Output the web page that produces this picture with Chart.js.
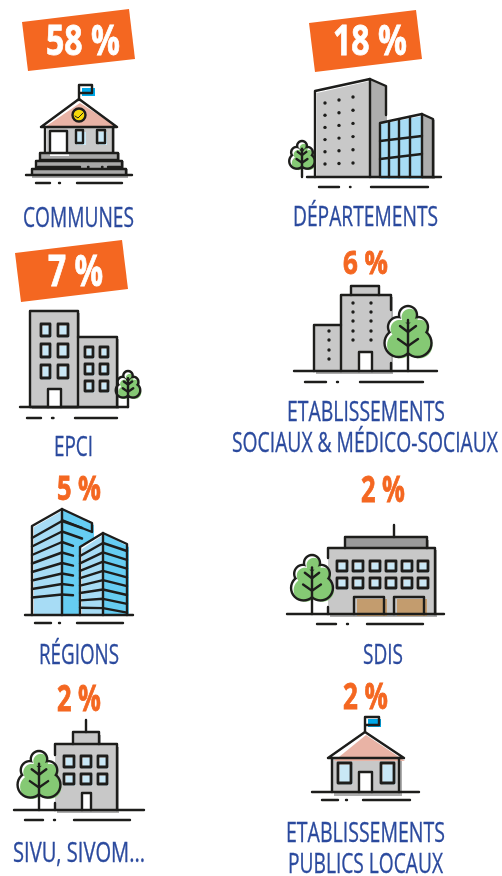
<!DOCTYPE html>
<html lang="fr">
<head>
<meta charset="utf-8">
<title>Répartition par type de collectivité</title>
<script src="https://cdn.jsdelivr.net/npm/chart.js@4"></script>
<style>
  html, body { margin: 0; padding: 0; background: #fff; }
  canvas { display: block; }
</style>
</head>
<body>
<canvas id="shareChart" width="502" height="876"></canvas>
<script>
// Chart values
const categories = [
    ['COMMUNES'],
    ['DÉPARTEMENTS'],
    ['EPCI'],
    ['ETABLISSEMENTS', 'SOCIAUX & MÉDICO-SOCIAUX'],
    ['RÉGIONS'],
    ['SDIS'],
    ['SIVU, SIVOM...'],
    ['ETABLISSEMENTS', 'PUBLICS LOCAUX']
];
const shares = [58, 18, 7, 6, 5, 2, 2, 2];
const bannerFlags = [true, true, true, false, false, false, false, false];

// Layout, in px of the 502x876 page
// value: [left, right, top, baseline] of the "NN %" text, label: the same for each text line
const valueBoxes = [
    [46, 120, 25, 55], [333, 407, 25, 55], [48, 103, 255, 286], [343, 388, 251, 274],
    [57, 101, 476, 500], [361, 405, 477, 502], [57, 101, 686, 711], [343, 388, 684, 709]
];
const labelBoxes = [
    [[23, 134, 227]],
    [[293, 438, 226]],
    [[54, 93, 456]],
    [[287, 445, 421], [232, 498, 452]],
    [[39, 119, 664]],
    [[363, 403, 664]],
    [[13, 145, 862]],
    [[286, 445, 842], [288, 443, 873]]
];
const bannerCorners = [
    [[22, 22], [129, 9], [135, 59], [28, 71]],
    [[309, 23], [416, 10], [422, 59], [315, 72]],
    [[15, 253], [122, 240], [128, 289], [21, 302]]
];

const INK = '#1d1d1b', GREY = '#c8c8c8', SHADE = '#adadad', GLASS = '#c9e8f6';
const SKY = '#a7dcf5', CYAN = '#66cdf2', FLAG = '#00a8e8', ROOF = '#e9b3a5';
const GREEN = '#85c974', ORANGE = '#f46721', BLUE = '#2b4a9e';

function fillPoly(ctx, color, pts) {
    ctx.fillStyle = color;
    ctx.beginPath();
    pts.forEach((p, i) => i ? ctx.lineTo(p[0], p[1]) : ctx.moveTo(p[0], p[1]));
    ctx.closePath();
    ctx.fill();
}

function line(ctx, pts, width) {
    ctx.strokeStyle = INK;
    ctx.lineWidth = width || 2.4;
    ctx.lineCap = 'round';
    ctx.lineJoin = 'round';
    ctx.beginPath();
    pts.forEach((p, i) => i ? ctx.lineTo(p[0], p[1]) : ctx.moveTo(p[0], p[1]));
    ctx.stroke();
}

function box(ctx, color, x0, y0, x1, y1) {
    ctx.fillStyle = color;
    ctx.fillRect(x0, y0, x1 - x0, y1 - y0);
}

function outline(ctx, x0, y0, x1, y1, width) {
    line(ctx, [[x0, y0], [x1, y0], [x1, y1], [x0, y1], [x0, y0]], width);
}

function windowPane(ctx, x0, y0, x1, y1, glass) {
    box(ctx, '#fff', x0, y0, x1, y1);
    box(ctx, glass || GLASS, x0 + 2, y0 + 2, x1 + 1.5, y1 + 1.5);
    outline(ctx, x0, y0, x1, y1, 2.8);
}

function door(ctx, x0, y0, x1, y1) {
    box(ctx, '#fff', x0, y0, x1, y1);
    line(ctx, [[x0, y1], [x0, y0], [x1, y0], [x1, y1]]);
}

// ground line plus the dashes underneath
function ground(ctx, x0, x1, y, dashY, d) {
    line(ctx, [[x0, y], [x1, y]]);
    line(ctx, [[d[0], dashY], [d[1], dashY]]);
    line(ctx, [[d[2], dashY], [d[3], dashY]]);
    line(ctx, [[d[4], dashY], [d[5], dashY]]);
}

// rounded tree made of overlapping lobes, the union outline comes from a scratch canvas
const treeLobes = [[0, 9, 9], [-10, 21, 10], [10, 21, 10], [-9.5, 37, 14], [9.5, 37, 14], [0, 28, 12]];
function tree(ctx, cx, top, groundY, width) {
    const s = width / 46;
    const scratch = document.createElement('canvas');
    scratch.width = 160;
    scratch.height = 160;
    const c = scratch.getContext('2d');
    const lobes = (g, grow, dx, dy, color) => {
        g.fillStyle = color;
        g.beginPath();
        treeLobes.forEach(l => {
            const x = 80 + (l[0] + dx) * s * 2, y = 30 + (l[1] + dy) * s * 2;
            g.moveTo(x + l[2] * s * 2 + grow, y);
            g.arc(x, y, l[2] * s * 2 + grow, 0, Math.PI * 2);
        });
        g.fill();
    };
    lobes(c, 2.4, 0, 0, INK);
    c.globalCompositeOperation = 'destination-out';
    lobes(c, -2.4, 0, 0, '#000');
    c.globalCompositeOperation = 'source-over';

    const fillLayer = document.createElement('canvas');
    fillLayer.width = 160;
    fillLayer.height = 160;
    const f = fillLayer.getContext('2d');
    lobes(f, 0, 0, 0, '#fff');
    lobes(f, -1.5, 3 / s * 0.6, 3.5 / s * 0.6, GREEN);

    const ox = cx - 40, oy = top - 15;
    ctx.drawImage(fillLayer, ox, oy, 80, 80);
    ctx.drawImage(scratch, ox, oy, 80, 80);
    line(ctx, [[cx, top + 14 * s], [cx, groundY]]);
    line(ctx, [[cx - 8 * s, top + 20 * s], [cx, top + 26 * s], [cx + 8 * s, top + 20 * s]]);
    line(ctx, [[cx - 10 * s, top + 33 * s], [cx, top + 40 * s], [cx + 10 * s, top + 33 * s]]);
}

function dots(ctx, xs, ys) {
    ctx.fillStyle = INK;
    xs.forEach(x => ys.forEach(y => {
        ctx.beginPath();
        ctx.arc(x, y, 1.7, 0, Math.PI * 2);
        ctx.fill();
    }));
}

// one drawing per category, same order as categories
const icons = [
    function townHall(ctx) {
        box(ctx, GREY, 47, 127, 115, 153);
        fillPoly(ctx, ROOF, [[45, 127], [80, 103], [119, 128]]);
        box(ctx, FLAG, 82, 88, 95, 96);
        box(ctx, GLASS, 77, 132, 86, 145);
        box(ctx, GLASS, 99, 132, 107, 145);
        box(ctx, '#fff', 50, 131, 67, 152);
        box(ctx, '#a8a8a8', 40, 153, 120, 161);
        box(ctx, '#a8a8a8', 36, 161, 124, 169);
        box(ctx, '#a8a8a8', 32, 169, 128, 178);
        box(ctx, '#fff', 50, 153, 69, 156);
        line(ctx, [[79, 100], [79, 85], [92, 85], [92, 93], [79, 93]]);
        line(ctx, [[41, 127], [79, 99], [117, 127], [41, 127]]);
        ctx.fillStyle = '#f5d90a';
        ctx.beginPath();
        ctx.arc(79, 115, 6.5, 0, Math.PI * 2);
        ctx.fill();
        ctx.strokeStyle = INK;
        ctx.lineWidth = 2.4;
        ctx.stroke();
        line(ctx, [[75, 116], [78, 118], [83, 113]], 1);
        line(ctx, [[45, 127], [45, 152]]);
        line(ctx, [[113, 127], [113, 152]]);
        line(ctx, [[50, 152], [50, 131], [67, 131], [67, 152]]);
        outline(ctx, 76, 130, 83, 143);
        outline(ctx, 97, 130, 105, 143);
        line(ctx, [[40, 160], [40, 153], [118, 153], [118, 160]]);
        line(ctx, [[40, 160], [118, 160]]);
        line(ctx, [[36, 168], [36, 161], [122, 161], [122, 168]]);
        line(ctx, [[32, 174], [32, 169], [126, 169], [126, 174]]);
        line(ctx, [[38, 167], [80, 167]]);
        line(ctx, [[88, 167], [88.5, 167]]);
        line(ctx, [[102, 167], [102.5, 167]]);
        line(ctx, [[108, 167], [120, 167]]);
        ground(ctx, 26, 132, 175, 183, [36, 50, 59, 60, 77, 122]);
    },
    function departement(ctx) {
        fillPoly(ctx, GREY, [[317, 93], [370, 81], [370, 177], [317, 177]]);
        fillPoly(ctx, SHADE, [[370, 79], [387, 87], [387, 125], [380, 125], [380, 178], [370, 178]]);
        fillPoly(ctx, SHADE, [[422, 114], [435, 120], [435, 179], [422, 179]]);
        fillPoly(ctx, SKY, [[381, 124], [422, 116], [422, 179], [381, 179]]);
        tree(ctx, 302, 141, 177, 25);
        line(ctx, [[315, 177], [315, 91], [370, 79], [370, 177]]);
        line(ctx, [[370, 79], [386, 86], [386, 115]]);
        [325, 339, 353].forEach((x, c) => [0, 1, 2, 3, 4, 5].forEach(r => {
            dots(ctx, [x], [(103 + r * 12.2) - c * (3 - r * 0.5)]);
        }));
        line(ctx, [[380, 177], [380, 123], [422, 114], [433, 119], [433, 177]]);
        line(ctx, [[422, 114], [422, 177]]);
        line(ctx, [[389, 122], [389, 177]]);
        line(ctx, [[399, 120], [399, 177]]);
        line(ctx, [[410, 117], [410, 177]]);
        line(ctx, [[380, 141], [422, 136]]);
        line(ctx, [[380, 159], [422, 154]]);
        ground(ctx, 307, 441, 177, 187, [319, 339, 350, 350.5, 371, 428]);
    },
    function epci(ctx) {
        box(ctx, SHADE, 32, 313, 80, 409);
        box(ctx, SHADE, 79, 339, 119, 409);
        box(ctx, GREY, 30, 311, 78, 407);
        box(ctx, GREY, 78, 337, 117, 407);
        tree(ctx, 128, 371, 407, 24);
        outline(ctx, 30, 311, 78, 407);
        line(ctx, [[78, 337], [117, 337], [117, 407]]);
        [[41, 50], [58, 68]].forEach(c => [[324, 336], [344, 357], [365, 378]].forEach(r => {
            windowPane(ctx, c[0], r[0], c[1], r[1]);
        }));
        [[85, 93], [100, 108]].forEach(c => [[347, 357], [364, 374], [381, 391]].forEach(r => {
            windowPane(ctx, c[0], r[0], c[1], r[1]);
        }));
        door(ctx, 48, 389, 61, 407);
        ground(ctx, 20, 128, 407, 418, [27, 41, 52, 53.5, 75, 117]);
    },
    function etablissementSocial(ctx) {
        box(ctx, SHADE, 316, 327, 343, 374);
        box(ctx, SHADE, 343, 297, 393, 374);
        box(ctx, GREY, 314, 325, 341, 371);
        box(ctx, GREY, 341, 295, 391, 371);
        box(ctx, GREY, 351, 287, 379, 295);
        line(ctx, [[351, 295], [351, 286], [379, 286], [379, 295]]);
        line(ctx, [[341, 371], [341, 295], [391, 295], [391, 310]]);
        line(ctx, [[391, 363], [391, 371]]);
        line(ctx, [[314, 371], [314, 325], [341, 325]]);
        tree(ctx, 408, 306, 371, 46);
        dots(ctx, [353, 371], [303, 312, 321, 331, 340]);
        dots(ctx, [329], [331, 340, 350, 359]);
        door(ctx, 359, 352, 372, 371);
        ground(ctx, 294, 437, 371, 382, [305, 326, 337, 338, 360, 423]);
    },
    function region(ctx) {
        fillPoly(ctx, SKY, [[34, 527], [62, 511], [62, 616], [34, 616]]);
        fillPoly(ctx, CYAN, [[62, 509], [94, 525], [94, 540], [80, 546], [80, 616], [62, 616]]);
        fillPoly(ctx, SKY, [[82, 549], [103, 535], [103, 616], [82, 616]]);
        fillPoly(ctx, CYAN, [[103, 533], [129, 547], [129, 616], [103, 616]]);
        line(ctx, [[32, 615], [32, 526], [62, 509], [92, 523], [92, 532], [62, 520]]);
        line(ctx, [[62, 509], [62, 615]]);
        for (let i = 0; i < 8; i++) {
            const left = 538 + i * 8.5, mid = 521 + i * 10.5;
            const rightX = i < 2 ? 82 : 73;
            line(ctx, [[32, left], [62, mid]]);
            line(ctx, [[62, mid], [rightX, mid + (i < 2 ? 7 : 5 - i * 0.6)]]);
        }
        line(ctx, [[80, 615], [80, 547], [103, 533], [127, 544], [127, 615]]);
        line(ctx, [[103, 533], [103, 615]]);
        for (let i = 0; i < 8; i++) {
            const left = 556 + i * 7.4, mid = 543 + i * 9.3, right = 551 + i * 8.8;
            line(ctx, [[80, left], [103, mid], [127, right]]);
        }
        ground(ctx, 25, 133, 615, 623, [35, 51, 59, 60, 77, 123]);
    },
    function sdis(ctx) {
        box(ctx, SHADE, 347, 540, 429, 550);
        box(ctx, SHADE, 330, 550, 437, 617);
        box(ctx, GREY, 328, 548, 435, 614);
        box(ctx, '#9a9a9a', 345, 537, 427, 548);
        line(ctx, [[394, 525], [394, 537]]);
        line(ctx, [[345, 548], [345, 537], [427, 537], [427, 548]]);
        line(ctx, [[328, 558], [328, 548], [435, 548], [435, 614]]);
        line(ctx, [[328, 607], [328, 614]]);
        tree(ctx, 312, 555, 614, 41);
        [337, 353, 370, 386, 402, 418].forEach(x => [561, 578].forEach(y => {
            windowPane(ctx, x, y, x + 10, y + 10);
        }));
        box(ctx, '#c39c6e', 357, 599, 387, 616);
        box(ctx, '#c39c6e', 397, 599, 427, 616);
        line(ctx, [[354, 614], [354, 597], [384, 597], [384, 614]]);
        line(ctx, [[394, 614], [394, 597], [424, 597], [424, 614]]);
        ground(ctx, 287, 444, 614, 624, [317, 336, 347, 348, 367, 423]);
    },
    function sivu(ctx) {
        box(ctx, SHADE, 75, 735, 101, 747);
        box(ctx, SHADE, 57, 747, 119, 813);
        box(ctx, GREY, 55, 744, 117, 810);
        box(ctx, GREY, 73, 732, 99, 744);
        line(ctx, [[86, 720], [86, 732]]);
        line(ctx, [[73, 744], [73, 732], [99, 732], [99, 744]]);
        line(ctx, [[55, 755], [55, 744], [117, 744], [117, 810]]);
        line(ctx, [[55, 803], [55, 810]]);
        tree(ctx, 39, 751, 810, 42);
        [[64, 74], [81, 91], [98, 107]].forEach(c => [[756, 767], [774, 784]].forEach(r => {
            windowPane(ctx, c[0], r[0], c[1], r[1]);
        }));
        door(ctx, 82, 793, 91, 810);
        ground(ctx, 14, 144, 810, 820, [25, 43, 54, 55, 74, 130]);
    },
    function maison(ctx) {
        box(ctx, SHADE, 334, 760, 402, 796);
        box(ctx, GREY, 332, 758, 399, 792);
        fillPoly(ctx, ROOF, [[334, 761], [366, 735], [405, 761]]);
        box(ctx, FLAG, 368, 719, 381, 727);
        line(ctx, [[365, 732], [365, 717], [379, 717], [379, 725], [365, 725]]);
        line(ctx, [[328, 758], [365, 732], [404, 758], [328, 758]]);
        line(ctx, [[332, 758], [332, 792]]);
        line(ctx, [[399, 758], [399, 792]]);
        windowPane(ctx, 338, 763, 351, 783);
        windowPane(ctx, 381, 763, 394, 783);
        door(ctx, 359, 772, 372, 792);
        ground(ctx, 312, 419, 792, 800, [322, 338, 346, 347, 363, 410]);
    }
];

// squeeze the text into its box, the original lettering is a condensed face
function fitText(ctx, text, font, color, left, right, baseline, heavier) {
    ctx.save();
    ctx.font = font;
    ctx.fillStyle = color;
    ctx.strokeStyle = color;
    ctx.textAlign = 'left';
    ctx.textBaseline = 'alphabetic';
    const natural = ctx.measureText(text).width;
    ctx.translate(left, baseline);
    ctx.scale((right - left) / natural, 1);
    ctx.fillText(text, 0, 0);
    ctx.lineWidth = heavier;
    ctx.strokeText(text, 0, 0);
    ctx.restore();
}

const infographicPlugin = {
    id: 'infographic',
    afterDatasetsDraw(chart) {
        const ctx = chart.ctx;
        const xs = chart.scales.x, ys = chart.scales.y;
        const points = chart.getDatasetMeta(0).data;

        ctx.save();
        ctx.translate(xs.getPixelForValue(0), ys.getPixelForValue(0));
        icons.forEach(draw => draw(ctx));
        ctx.restore();

        shares.forEach((share, i) => {
            const box4 = valueBoxes[i];
            const dx = points[i].x - (box4[0] + box4[1]) / 2;
            const dy = points[i].y - box4[3];
            if (bannerFlags[i]) {
                fillPoly(ctx, ORANGE, bannerCorners[i].map(p => [p[0] + dx, p[1] + dy]));
            }
            const size = Math.round((box4[3] - box4[2]) / 0.714);
            fitText(ctx, share + ' %', '700 ' + size + 'px "Open Sans"',
                bannerFlags[i] ? '#fff' : ORANGE, box4[0] + dx, box4[1] + dx, points[i].y, 0.8);

            categories[i].forEach((text, n) => {
                const b = labelBoxes[i][n];
                fitText(ctx, text, '400 28px "Open Sans"', BLUE, b[0], b[1], b[2], 0.35);
            });
        });
    }
};

new Chart(document.getElementById('shareChart').getContext('2d'), {
    type: 'scatter',
    data: {
        labels: categories.map(c => c.join(' ')),
        datasets: [{
            label: 'Part',
            data: shares.map((share, i) => ({
                x: (valueBoxes[i][0] + valueBoxes[i][1]) / 2,
                y: valueBoxes[i][3],
                share: share
            })),
            pointRadius: 0
        }]
    },
    options: {
        responsive: false,
        animation: false,
        layout: { padding: 0 },
        plugins: { legend: { display: false }, tooltip: { enabled: false } },
        scales: {
            x: { type: 'linear', min: 0, max: 502, display: false },
            y: { type: 'linear', min: 0, max: 876, reverse: true, display: false }
        }
    },
    plugins: [infographicPlugin]
});
</script>
</body>
</html>
